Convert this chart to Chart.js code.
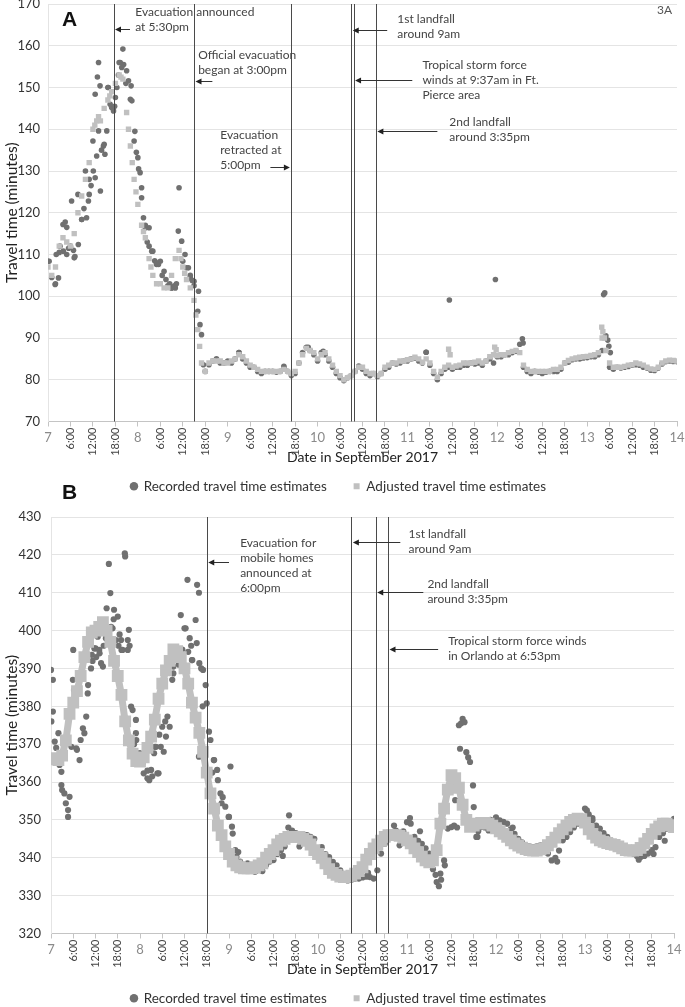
<!DOCTYPE html>
<html>
<head>
<meta charset="utf-8">
<script src="https://cdn.jsdelivr.net/npm/chart.js@4.4.1/dist/chart.umd.min.js"></script>
<style>
  body { margin: 0; background: #fff; width: 685px; height: 1007px; overflow: hidden; position: relative; }
  canvas { position: absolute; left: 0; }
  #chartA { top: 0; }
  #chartB { top: 480px; }
</style>
</head>
<body>
<canvas id="chartA" width="685" height="503"></canvas>
<canvas id="chartB" width="685" height="535"></canvas>
<script>
// ------------------- DATA -------------------
// x values are hours since Sept 7 00:00 (0..168), one adjusted / recorded value per hour
const dayLabels = ['7', '8', '9', '10', '11', '12', '13', '14'];
const hourLabels = ['6:00', '12:00', '18:00'];

// Panel A
const adjustedA = [107,105,107,112,114,113,112,115,120,124,
  128,132,140,142,142,145,147,149,151,153,
  152,144,136,128,122,117,114,109,105,103,
  103,102,102,105,109,111,107,104,102,99,
  92,84,82,84,84.5,84.5,84.5,84,84,84.5,
  85,86,85.5,84.5,83.5,83,82.5,82,82,82,
  82,82,82,82.5,82,81.5,82,84,86,87.5,
  87,86.5,85,86,86.5,85,83.5,82,81,80,
  80.5,81,82,83,83,82,81.5,81.5,81,81.5,
  83,83.5,84,84,84.5,84.5,84.8,85,85.4,85,
  84.2,85,84,82,80.6,82,83,83.5,83,83.3,
  83.5,84,84,84,84.2,84.5,84,84.5,85.5,86,
  85.8,86,86,86.5,86.8,87,86.5,83.5,82.5,82,
  82,82,82,82,82,82.5,82.5,83,84,84.6,
  85,85.2,85.4,85.5,85.6,85.8,86,86.5,90,87,
  84,83,83,83,83.2,83.5,83.6,84,83.8,83.5,
  83,82.6,82.5,83,84,84.5,84.7,84.6,84.5];
const adjustedExtraA = [[107,87.3],[107.4,86],[119.3,87.8],[119.7,87.2],[147.9,92.6],[148.2,91.5],[148.6,90],
  [12.5,141],[13.5,143],[16.5,148],[19.5,152.5],[21.5,140],[22.5,132],[23.5,125],[25.5,115.5],[27.5,107],
  [35.5,109],[36.5,105.5],[39.5,95.5],[40.5,88]];

const recordedA = [108.4,104.5,103,110.5,117.2,110,112,109.2,124.4,118.4,
  130,124.4,137.2,133.6,125.2,136.4,150,145.2,147.6,156,
  159.2,154,147.2,137.2,133.2,126,116.4,116.4,110.8,107.6,
  108.4,106,102.5,102,102,126,108.4,106.8,104.4,103.6,
  96.4,90.8,82,83.6,84.5,85,84,84,84.5,84,
  85,86.5,85,84,83,83,82,81.5,82,82,
  82,81.8,82,83,82,81,81.5,84,86.5,87.8,
  87,86,84.5,86.5,86,84.5,83,81.5,80.5,79.8,
  80.5,81,82,83.3,82.5,81.5,81,81.5,80.8,81.5,
  82.5,83,84,83.8,84,84.5,84.5,85,85.2,84.5,
  84,86.6,83.5,81.5,80,81.5,82.5,83,82.5,83,
  83,83.5,83.5,84,83.8,84,83.5,84.5,85,84,
  85.5,85.5,86,86,86.5,86.8,88.5,83,82,81.5,
  82,81.8,81.5,81.8,82,82,82,82.5,84,84.2,
  84.8,85,85,85.2,85.3,85.5,85.5,86,87,90.5,
  83,82.5,83,82.8,83,83.2,83.5,83.6,83.5,83,
  82.8,82.3,82.2,82.8,83.8,84.3,84.5,84.4,84.3];
const recordedExtraA = [[0.3,108.4],[1.9,102.8],[2.8,104.4],[3.2,112],[4.1,110.8],[4.6,117.8],[5.5,111.5],
  [6.3,122.8],[7.2,109.5],[8.1,112.4],[9,118.4],[10.3,118.8],[10.8,122.8],[11.5,126.5],[12.1,130],
  [12.6,128.4],[12.6,148.4],[13.2,152.5],[13.5,156],[13.9,150.4],[13.5,139.6],[14.8,136],[15.2,134],
  [15.7,139.6],[16.1,150],[16.6,146],[17.5,144.4],[17.8,145.5],[18.4,150],[19.3,156],[19.7,154.8],
  [20.2,155.5],[21.5,151.6],[22.2,150.4],[22.4,146.8],[23.2,139.5],[24.6,129.6],[25,123.6],[25.5,118.8],
  [26.5,113],[27.7,110.8],[28.5,108.5],[29.5,107.6],[30.5,105],[33,102],[33.8,102.5],[34.8,115.6],
  [35.7,113.2],[36.6,110],[37.5,106.8],[38.5,103.8],[40.2,101.2],[40.6,93.2],[41.5,83.6],
  [2.2,110],[5,116.5],[6.8,111],[9.6,121],[11,128],[14.3,135],[18.8,153],[20.8,151],[23.6,134.5],
  [24.2,130.5],[26,117],[27,112],[29,108],[31.5,104],[32.5,103],[34.3,103],[38,105],[39,102.5],
  [51,86.5],[63,83.2],[69.5,87.8],[73.5,86.8],[101,86.6],[107.2,99.1],[119.5,104],[126.7,89.8],
  [126.9,88.8],[148.4,100.4],[148.7,100.8],[149.5,89.5],[149.8,88],[150.2,86.5]];

const eventsA = [17.5, 39, 65, 81, 81.62, 87.58];
const notesA = [
  { lines: ['Evacuation announced', 'at 5:30pm'], at: [23.3, 168.1], arrow: [21.9, 17.5, 164] },
  { lines: ['Official evacuation', 'began at 3:00pm'], at: [40.1, 157.8], arrow: [43.9, 39, 151.5] },
  { lines: ['Evacuation', 'retracted at', '5:00pm'], at: [46, 138.6], arrow: [59.4, 65, 130.9] },
  { lines: ['1st landfall', 'around 9am'], at: [93.3, 166.4], arrow: [90.6, 81, 163.8] },
  { lines: ['Tropical storm force', 'winds at 9:37am in Ft.', 'Pierce area'], at: [100, 155.4], arrow: [97.3, 81.62, 151.8] },
  { lines: ['2nd landfall', 'around 3:35pm'], at: [107.2, 141.7], arrow: [104, 87.58, 139.5] }
];

// Panel B
const adjustedB = [366.3,366,365.8,367,371,378,381,384,388,393,
  397,399.5,400,401,402.2,400,397,392,388,383,
  376,371,367.5,365.5,365.4,366.5,369,372,376.5,382,
  386,389.5,392,395,394.6,393,390,386,381,377,
  373,368,362.5,357,353,348.5,346,343,341,339,
  338,337.5,337.2,337.2,337.2,337.5,338,338.5,340,341,
  342,343.5,344.5,345,345.5,345.5,345.5,345.5,345,344.5,
  343.5,342,341,340,338.5,337,336,335.5,335,334.9,
  335,335.3,335.8,336.5,337.5,339.5,341,342.5,343.5,344.5,
  345.5,346,346,346,345.8,345.3,344.6,343.8,342.5,341.5,
  340.3,339.3,338.8,339.3,342,349,353,358,361.8,361,
  358.5,354,350,348.2,348.5,349,349.2,349.2,349,348.5,
  347.8,347,346.3,345.5,344.6,343.8,343.2,342.7,342.3,342,
  341.9,341.9,342.2,342.5,343.3,344.2,345.3,346.5,347.5,348.5,
  349.5,350,350.3,350.2,349.3,347.5,346.3,345.3,344.6,344.2,
  343.9,343.6,343.4,343,342.5,342,341.9,341.9,342,342.6,
  343.8,345,346.3,347.5,348.3,349,349,348.6,348.1];

const recordedB = [389.6,370.7,372.9,357.9,354.4,356.1,394.9,368.5,371.1,372.9,
  385.6,393.6,395.3,394.9,390.5,405.9,409.9,405.5,403.7,394.9,
  419.6,400.2,379,371.1,367.6,362.3,361,363.2,369.3,362.3,
  374.6,372,374.6,388.7,394,404.1,400.6,394.4,392.2,402.8,
  391.4,389.6,380.8,371.1,365.8,360.5,354.4,353.5,350.8,346.4,
  340.3,339,338.1,337.5,337.2,336.3,336.7,337.5,338.1,339,
  339.4,341,342,343,348,347.2,346.5,343,345.5,346,
  345.5,345,342,342.8,341,340.2,338.9,338,336.7,335.5,
  334,334.2,334.5,334.5,334.8,335,334.9,334.5,336.7,341.1,
  343.7,345,345.9,347.2,343.3,347,349.4,349,345.5,344.5,
  343.7,342.5,341.1,337,333.6,335.8,339.3,347.7,348.1,355.2,
  375,376.7,367.9,365.3,353.4,345.5,348.1,348,347.2,349.5,
  350.7,349.9,349.5,349,347.5,346.3,345,344.1,343.3,343,
  342.8,343,343.3,342,341.1,339.3,340,341.9,344.6,345.5,
  346.8,348,349,350.7,353,351.5,349.9,348.5,347.7,346.5,
  345.5,344.5,343.7,343.5,343,342.8,342,341.1,340.5,340.2,
  340.5,341.1,342,342.8,345.5,346.5,347.7,349,350.3];
const recordedExtraB = [[0.5,387],[0.5,378.6],[0.1,376],[1.4,369],[2.3,364.5],[2.8,362.7],[2.8,359.2],
  [3.6,357],[4.6,350.8],[4.6,352.6],[5.5,369.3],[5.9,387],[6.2,384.3],[6.8,368.9],[7.7,365.8],[8.6,374.2],
  [9.5,377.3],[9.9,383.4],[11.2,392],[11.7,395.3],[12.6,398.4],[13.5,391.4],[13.1,394],[14.2,396],
  [15.6,417.6],[16.2,401],[16.6,400.6],[17.5,397.5],[18.2,396],[18.9,397.5],[19.3,394.9],[19.9,420.4],
  [20.7,397.5],[20.7,394.9],[21.6,379.9],[22.9,376.4],[22.9,372.9],[23.8,367.6],[24.7,364.9],[25.2,366],
  [26,363],[27.8,367.6],[28.3,369.3],[28.7,362.3],[29.6,369.3],[30.4,368],[31.4,377.3],[32.7,387],
  [33.6,392.2],[34.5,391],[36.3,400.6],[36.8,413.4],[37.8,396],[38.1,392.2],[38.6,378.1],[39.3,396.7],
  [39.4,412.1],[39.9,410],[39.9,366.7],[40.5,390],[41.7,385.6],[42.6,373.3],[43.9,365.8],[44.8,363.2],
  [45.7,357],[47.9,350.8],[48.4,364.1],[48.8,348.2],[49.7,342],[64.2,351.2],[103.7,335.5],[104.6,332.5],
  [105.2,334.2],[106.2,338],[108.7,348.5],[109.5,348],[110.3,368.8],[110.6,375.5],[111.5,375.8],
  [112.5,366.5],[113.8,359.1],[114.7,345.5],[115.2,347],
  [10.8,390],[12.2,393],[14.8,398],[16.9,403],[18.5,399],[21.2,396],[22.4,370],[26.5,360.5],[27.3,361.5],
  [29.2,372.5],[30.8,376],[33,390.5],[35.4,395],[37.4,398],[40.9,380],[43.5,362.5],[46.3,356],[50.5,341.5],
  [53,338.5],[57,336.5],[62.5,340.5],[66.5,345],[70.5,343],[75.5,338],[79,335],[85.5,336],[92.5,348.5],
  [96.8,350.5],[99.5,347],[101.5,340],[118.5,350],[124.5,348],[136.5,339],[141.5,350],[144.5,352.5],
  [146,350.5],[158.5,339.5],[162.5,341],[165.5,344.5]];

const eventsB = [42, 81, 87.58, 90.88];
const notesB = [
  { lines: ['Evacuation for', 'mobile homes', 'announced at', '6:00pm'], at: [51, 423.1], arrow: [48, 42, 418.1] },
  { lines: ['1st landfall', 'around 9am'], at: [96.4, 425.5], arrow: [94.2, 81, 423.4] },
  { lines: ['2nd landfall', 'around 3:35pm'], at: [101.5, 412.3], arrow: [100.4, 87.58, 410.2] },
  { lines: ['Tropical storm force winds', 'in Orlando at 6:53pm'], at: [107.1, 397.2], arrow: [104.4, 90.88, 395.1] }
];

// ------------------- HELPERS -------------------
const FONT = 'Lato, "Open Sans", sans-serif';
Chart.defaults.font.family = FONT;

const toPoints = (vals, extra) => vals.map((v, i) => ({ x: i, y: v })).concat(extra.map(([x, y]) => ({ x, y })));

// events lines, rotated x labels, notes with arrows, panel letter
const decor = {
  id: 'decor',
  afterDatasetsDraw(chart, args, opts) {
    const { ctx, chartArea: a, scales: { x } } = chart;
    ctx.save();
    ctx.strokeStyle = '#4a4a4a';
    ctx.lineWidth = 1;
    opts.events.forEach(h => {
      const px = Math.round(x.getPixelForValue(h)) + 0.5;
      ctx.beginPath();
      ctx.moveTo(px, a.top);
      ctx.lineTo(px, a.bottom);
      ctx.stroke();
    });
    ctx.restore();
  },
  afterDraw(chart, args, opts) {
    const { ctx, chartArea: a, scales: { x, y } } = chart;
    ctx.save();

    // x tick labels: day numbers flat, hours rotated
    x.ticks.forEach(t => {
      const px = x.getPixelForValue(t.value);
      if (t.value % 24 === 0) {
        ctx.font = '13px ' + FONT;
        ctx.fillStyle = '#8a8a8a';
        ctx.textAlign = 'center';
        ctx.textBaseline = 'middle';
        ctx.fillText(dayLabels[t.value / 24], px, a.bottom + 16);
      } else {
        ctx.save();
        ctx.translate(px, a.bottom + 6);
        ctx.rotate(-Math.PI / 2);
        ctx.font = '11px ' + FONT;
        ctx.fillStyle = '#444';
        ctx.textAlign = 'right';
        ctx.textBaseline = 'middle';
        ctx.fillText(hourLabels[(t.value % 24) / 6 - 1], 0, 0);
        ctx.restore();
      }
    });

    // notes and arrows
    ctx.font = '12px ' + FONT;
    ctx.fillStyle = '#444';
    ctx.textAlign = 'left';
    ctx.textBaseline = 'middle';
    opts.notes.forEach(n => {
      const tx = x.getPixelForValue(n.at[0]);
      const ty = y.getPixelForValue(n.at[1]);
      n.lines.forEach((t, i) => ctx.fillText(t, tx, ty + i * 15));

      const x1 = x.getPixelForValue(n.arrow[0]);
      const x2 = x.getPixelForValue(n.arrow[1]);
      const ay = Math.round(y.getPixelForValue(n.arrow[2])) + 0.5;
      const dir = x2 > x1 ? 1 : -1;
      const tip = x2 - dir * 1.5;
      ctx.strokeStyle = '#333';
      ctx.lineWidth = 1;
      ctx.beginPath();
      ctx.moveTo(x1, ay);
      ctx.lineTo(tip - dir * 5, ay);
      ctx.stroke();
      ctx.fillStyle = '#222';
      ctx.beginPath();
      ctx.moveTo(tip, ay);
      ctx.lineTo(tip - dir * 6, ay - 3);
      ctx.lineTo(tip - dir * 6, ay + 3);
      ctx.closePath();
      ctx.fill();
      ctx.fillStyle = '#444';
    });

    // panel letter
    ctx.font = 'bold 21px "Liberation Sans", Arial, sans-serif';
    ctx.fillStyle = '#111';
    ctx.textAlign = 'left';
    ctx.fillText(opts.letter, a.left + opts.letterPos[0], a.top + opts.letterPos[1]);
    if (opts.tag) {
      ctx.font = '12px ' + FONT;
      ctx.fillStyle = '#555';
      ctx.textAlign = 'right';
      ctx.fillText(opts.tag, a.right - 5, a.top + 6);
    }
    ctx.restore();
  }
};

function makeChart(id, p) {
  return new Chart(document.getElementById(id), {
    type: 'scatter',
    data: {
      datasets: [
        {
          label: 'Recorded travel time estimates',
          data: toPoints(p.recorded, p.recordedExtra),
          pointStyle: 'circle',
          pointRadius: p.dotRadius,
          borderWidth: 0,
          backgroundColor: '#707070',
          borderColor: '#707070',
          order: 2
        },
        {
          label: 'Adjusted travel time estimates',
          data: toPoints(p.adjusted, p.adjustedExtra),
          pointStyle: 'rect',
          pointRadius: p.rectRadius,
          showLine: p.adjLine > 0,
          borderWidth: p.adjLine,
          borderJoinStyle: 'round',
          backgroundColor: '#c0c0c0',
          borderColor: '#c0c0c0',
          order: 1
        }
      ]
    },
    options: {
      responsive: false,
      animation: false,
      events: [],
      layout: { padding: { top: p.padTop, right: 8, left: 0, bottom: 0 } },
      scales: {
        x: {
          type: 'linear',
          min: 0,
          max: 168,
          afterBuildTicks: s => { s.ticks = []; for (let h = 0; h <= 168; h += 6) s.ticks.push({ value: h }); },
          afterFit: s => { s.height = 48; },
          ticks: { display: false },
          grid: { drawOnChartArea: false, drawTicks: true, tickLength: 5, color: '#c4c4c4' },
          border: { color: '#c4c4c4' },
          title: { display: true, text: 'Date in September 2017', color: '#222', font: { size: 14 }, padding: { top: 4, bottom: 4 } }
        },
        y: {
          min: p.yMin,
          max: p.yMax,
          afterFit: s => { s.width = p.left; s.paddingTop = 0; },
          ticks: { stepSize: 10, color: '#333', font: { size: 13 }, padding: p.tickPad },
          grid: { color: '#e4e4e4', drawTicks: false },
          border: { color: '#e4e4e4' },
          title: { display: true, text: 'Travel time (minutes)', color: '#222', font: { size: 15.5 }, padding: { top: 3, bottom: 3 } }
        }
      },
      plugins: {
        tooltip: { enabled: false },
        legend: {
          position: 'bottom',
          labels: {
            usePointStyle: true,
            boxWidth: 6,
            boxHeight: 6,
            padding: 10,
            color: '#333',
            font: { size: 13.5 },
            sort: (a, b) => a.datasetIndex - b.datasetIndex,
            generateLabels: chart => Chart.defaults.plugins.legend.labels.generateLabels(chart)
              .map(item => ({ ...item, lineWidth: 0, text: item.datasetIndex === 0 ? item.text + '\u2003\u2002' : item.text }))
          }
        },
        decor: { events: p.events, notes: p.notes, letter: p.letter, letterPos: p.letterPos, tag: p.tag }
      }
    },
    plugins: [decor]
  });
}

makeChart('chartA', {
  recorded: recordedA, recordedExtra: recordedExtraA,
  adjusted: adjustedA, adjustedExtra: adjustedExtraA,
  dotRadius: 2.8, rectRadius: 3.8, adjLine: 0,
  yMin: 70, yMax: 170, left: 48, tickPad: 8, padTop: 4,
  events: eventsA, notes: notesA, letter: 'A', letterPos: [14, 16], tag: '3A'
});

makeChart('chartB', {
  recorded: recordedB, recordedExtra: recordedExtraB,
  adjusted: adjustedB, adjustedExtra: [],
  dotRadius: 3.1, rectRadius: 3.4, adjLine: 7,
  yMin: 320, yMax: 430, left: 51, tickPad: 10, padTop: 37,
  events: eventsB, notes: notesB, letter: 'B', letterPos: [11, -24], tag: ''
});
</script>
</body>
</html>
